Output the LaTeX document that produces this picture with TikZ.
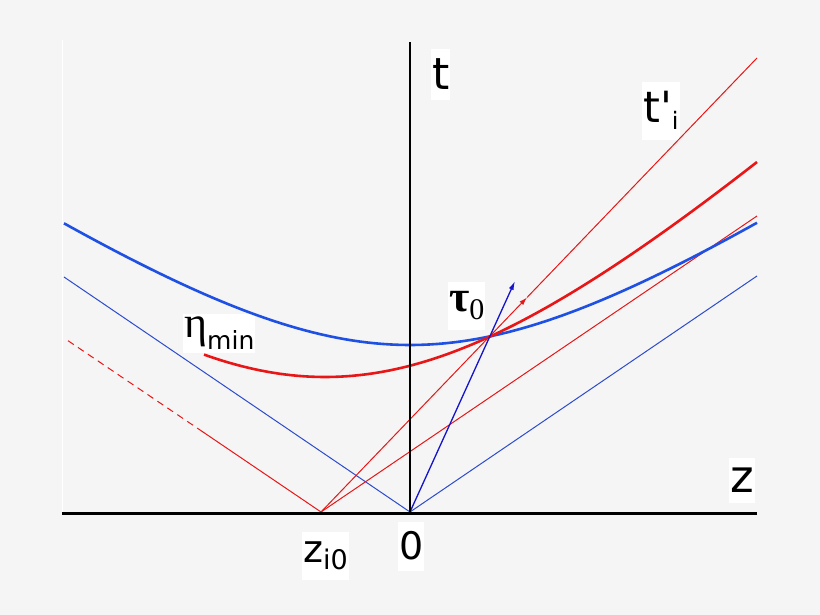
\documentclass[tikz,border=0pt]{standalone}
\usepackage{fontspec}
\newfontfamily\labelfont{DejaVu Sans}
\newfontfamily\greekfont{Liberation Serif}
\usepackage{tikz}
\usetikzlibrary{arrows}
\usetikzlibrary{arrows.meta}
\definecolor{bgcol}{RGB}{245,245,245}
\definecolor{curvered}{RGB}{232,22,22}
\definecolor{hypblue}{RGB}{30,80,228}
\definecolor{coneblue}{RGB}{45,75,205}
\definecolor{vecblue}{RGB}{20,20,205}
\tikzset{axisline/.style={black, line width=3bp}, thinred/.style={curvered, line width=1bp}, thinblue/.style={coneblue, line width=1bp}, thickcurve/.style={line width=2.6bp}, lbl/.style={fill=white, inner xsep=1bp, inner ysep=10bp, text=black}}

\begin{document}
\begin{tikzpicture}[>=latex,line join=bevel,x=1bp,y=1bp]
%%
\fill[bgcol] (0,0) rectangle (820,615);
\useasboundingbox (0,0) rectangle (820,615);
\draw[white, line width=1.5bp] (62.5,575) -- (62.5,101);
  \coordinate (O) at (410,103);
  \coordinate (zi0) at (321,103);
  \coordinate (tau0) at (488.5,278);
  \coordinate (zleft) at (62,101.5);
  \coordinate (zright) at (757,101.5);
  \coordinate (ttop) at (410,573);
  \coordinate (conel) at (64,338);
  \coordinate (coner) at (757,339);
  \coordinate (dashstart) at (203,183);
  \coordinate (redl) at (64,277);
  \coordinate (redr) at (757,399);
  \coordinate (redmid) at (527,317.5);
  \coordinate (redtop) at (757,557);
  \coordinate (vectip) at (515,334);
%
  \node (tlabel) at (431,525) [lbl, anchor=base west, font={\labelfont\fontsize{44bp}{44bp}\selectfont}] {t};
  \node (zlabel) at (729,122) [lbl, anchor=base west, font={\labelfont\fontsize{45bp}{45bp}\selectfont}] {z};
  \node (olabel) at (398,55) [lbl, anchor=base west, font={\labelfont\fontsize{38bp}{38bp}\selectfont}] {0};
  \node (zilabel) at (302,52) [lbl, anchor=base west, font={\labelfont\fontsize{38bp}{38bp}\selectfont}] {z\raisebox{-7bp}{\fontsize{27bp}{27bp}\selectfont i0}};
  \node (tilabel) at (642,492) [lbl, anchor=base west, font={\labelfont\fontsize{43bp}{43bp}\selectfont}] {t'\raisebox{-7bp}{\fontsize{24bp}{24bp}\selectfont i}};
  \node (taulabel) at (448,303) [lbl, anchor=base west, font={\greekfont\fontsize{44bp}{44bp}\selectfont}] {\textbf{τ}\raisebox{-8bp}{\fontsize{30bp}{30bp}\selectfont 0}};
  \node (etalabel) at (183,277) [lbl, inner ysep=3bp, anchor=base west, font={\greekfont\fontsize{44bp}{44bp}\selectfont}] {η\raisebox{-12bp}{\labelfont\fontsize{25bp}{25bp}\selectfont min}};
%
  \draw [thinblue] (conel) -- (O) -- (coner);
  \draw [thinred] (dashstart) -- (zi0) -- (redr);
  \draw [thinred, dash pattern=on 7bp off 5bp] (dashstart) -- (redl);
  \draw [thinred, -{Latex[length=8bp,width=5bp]}] (zi0) -- (redmid);
  \draw [thinred] (redmid) -- (redtop);
  \draw [hypblue, thickcurve] plot[domain=64:757, samples=90] (\x, {103+100*sqrt(1.67*1.67+(0.0068*(\x-410))^2)});
  \draw [curvered, thickcurve] plot[domain=204:757, samples=90] (\x, {-43+100*sqrt(2.81*2.81+(0.00946*(\x-325))^2)});
  \draw [vecblue, line width=1.3bp, -{Latex[length=9bp,width=5bp]}] (O) -- (vectip);
  \draw [black, line width=2bp] (O) -- (ttop);
  \draw [axisline] (zleft) -- (zright);
%
\end{tikzpicture}
\end{document}
